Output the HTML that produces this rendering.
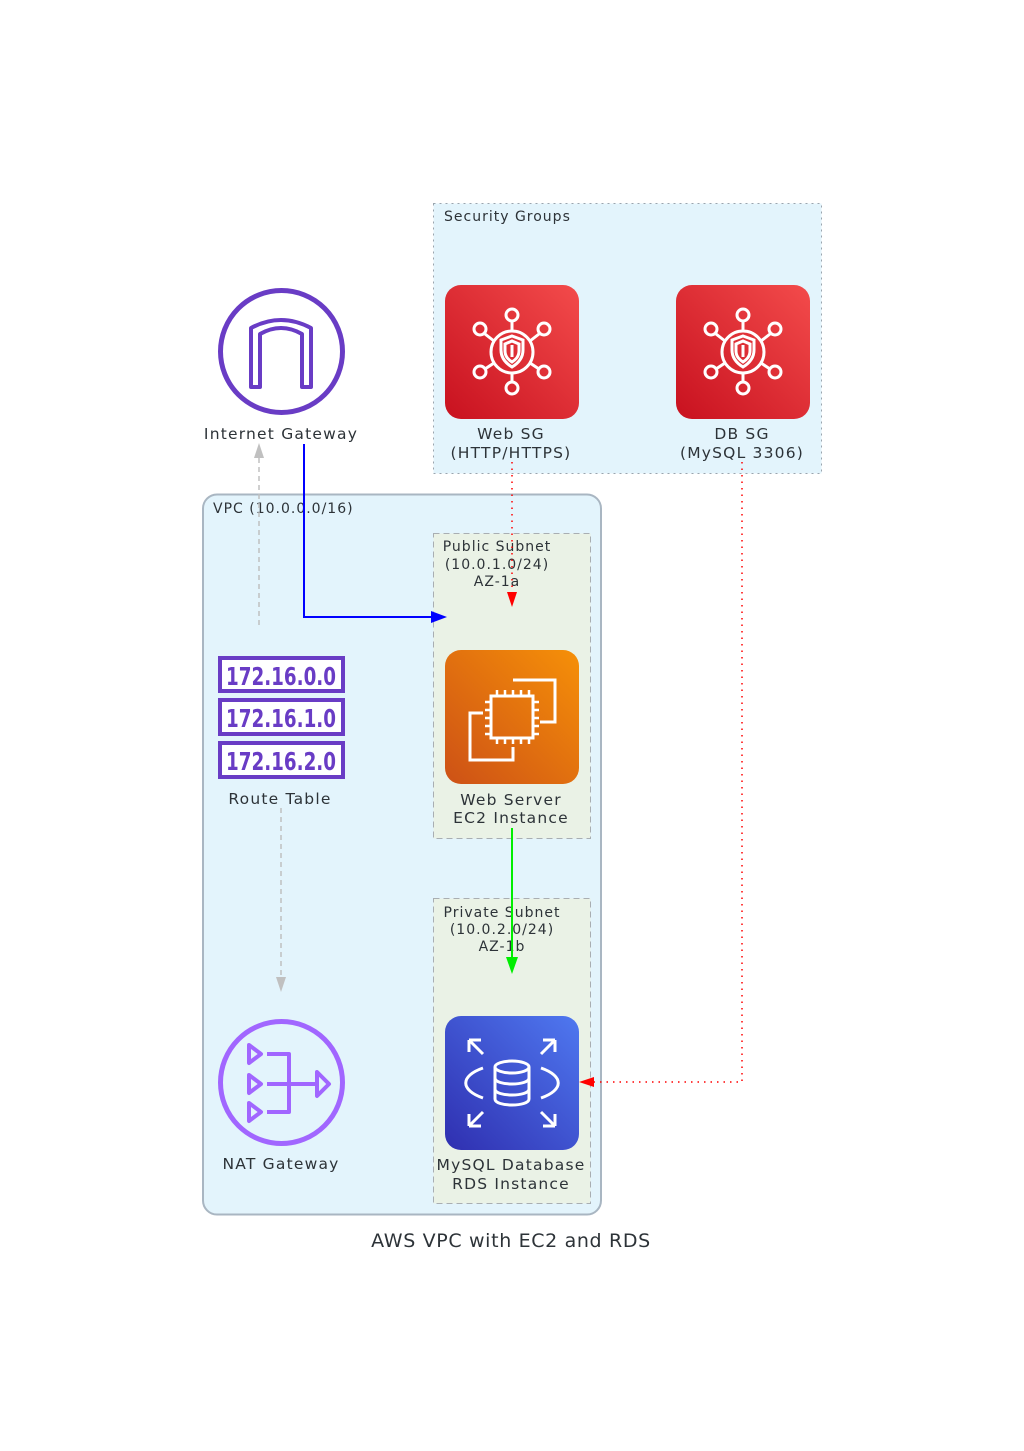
<!DOCTYPE html>
<html><head><meta charset="utf-8"><style>
html,body{margin:0;padding:0;background:#fff;}
svg{display:block;font-family:"DejaVu Sans","Liberation Sans",sans-serif;}
.l{letter-spacing:1.2px;}
.c{letter-spacing:1px;}
</style></head><body>
<svg width="1024" height="1451" viewBox="0 0 1024 1451" xmlns="http://www.w3.org/2000/svg">
<defs>
<linearGradient id="gr" x1="0" y1="1" x2="1" y2="0"><stop offset="0" stop-color="#c8111f"/><stop offset="1" stop-color="#f34b4b"/></linearGradient>
<linearGradient id="go" x1="0" y1="1" x2="1" y2="0"><stop offset="0" stop-color="#cd5116"/><stop offset="1" stop-color="#f69008"/></linearGradient>
<linearGradient id="gb" x1="0" y1="1" x2="1" y2="0"><stop offset="0" stop-color="#2f2fb0"/><stop offset="1" stop-color="#4f78f0"/></linearGradient>
<g id="sg" fill="none" stroke="#fff" stroke-width="3">
<circle cx="67" cy="67" r="21"/>
<path d="M67 51 l11 4 v10 c0 9-6 14-11 17 c-5-3-11-8-11-17 v-10z"/>
<path d="M67 56 l7 3 v7 c0 6-4 9-7 11 c-3-2-7-5-7-11 v-7z"/>
<line x1="67" y1="60" x2="67" y2="72" stroke-width="3"/>
<line x1="67" y1="46" x2="67" y2="36"/><circle cx="67" cy="30" r="6"/>
<line x1="67" y1="88" x2="67" y2="97"/><circle cx="67" cy="103" r="6"/>
<line x1="49" y1="56" x2="40" y2="49"/><circle cx="35" cy="44" r="6"/>
<line x1="85" y1="56" x2="94" y2="49"/><circle cx="99" cy="44" r="6"/>
<line x1="49" y1="78" x2="40" y2="84"/><circle cx="35" cy="87" r="6"/>
<line x1="85" y1="78" x2="94" y2="84"/><circle cx="99" cy="87" r="6"/>
</g>
</defs>

<rect x="433.5" y="203.5" width="388" height="270" fill="#e3f4fc" stroke="#9aa5ae" stroke-dasharray="2,4"/>
<text x="444" y="221" font-size="14" fill="#2d3338" class="c">Security Groups</text>

<rect x="203" y="494.5" width="398" height="720" rx="14" fill="#e3f4fc" stroke="#a9b6c2" stroke-width="2"/>
<text x="213" y="513" font-size="14" fill="#2d3338" class="c">VPC (10.0.0.0/16)</text>

<rect x="433.5" y="533.5" width="157" height="305" fill="#eaf2e6" stroke="#a9aeb2" stroke-dasharray="6,4"/>
<text font-size="14" fill="#2d3338" text-anchor="middle" class="c"><tspan x="497" y="551">Public Subnet</tspan><tspan x="497" y="569">(10.0.1.0/24)</tspan><tspan x="497" y="586">AZ-1a</tspan></text>
<rect x="433.5" y="898.5" width="157" height="305" fill="#eaf2e6" stroke="#a9aeb2" stroke-dasharray="6,4"/>
<text font-size="14" fill="#2d3338" text-anchor="middle" class="c"><tspan x="502" y="917">Private Subnet</tspan><tspan x="502" y="934">(10.0.2.0/24)</tspan><tspan x="502" y="951">AZ-1b</tspan></text>

<circle cx="281.5" cy="351.5" r="61" fill="none" stroke="#693cc5" stroke-width="5"/>
<path d="M251 387 V328 Q281 312 311 328 V387 H302 V334 Q281 322 260 334 V387 Z" fill="none" stroke="#693cc5" stroke-width="4" stroke-linejoin="round"/>
<text x="281" y="439" font-size="15.5" fill="#2d3338" text-anchor="middle" class="l">Internet Gateway</text>

<g transform="translate(445,285)"><rect width="134" height="134" rx="16" fill="url(#gr)"/><use href="#sg"/></g>
<text font-size="15.5" fill="#2d3338" text-anchor="middle" class="l"><tspan x="511" y="439">Web SG</tspan><tspan x="511" y="458">(HTTP/HTTPS)</tspan></text>
<g transform="translate(676,285)"><rect width="134" height="134" rx="16" fill="url(#gr)"/><use href="#sg"/></g>
<text font-size="15.5" fill="#2d3338" text-anchor="middle" class="l"><tspan x="742" y="439">DB SG</tspan><tspan x="742" y="458">(MySQL 3306)</tspan></text>

<g fill="#fff" stroke="#693cc5" stroke-width="4">
<rect x="220" y="658" width="123" height="33"/><rect x="220" y="700" width="123" height="34"/><rect x="220" y="743" width="123" height="34"/>
</g>
<g font-size="25" font-weight="bold" fill="#693cc5" text-anchor="middle" font-family="'DejaVu Sans Condensed','Liberation Sans Narrow','DejaVu Sans',sans-serif">
<text x="281" y="685" textLength="110" lengthAdjust="spacingAndGlyphs">172.16.0.0</text>
<text x="281" y="727" textLength="110" lengthAdjust="spacingAndGlyphs">172.16.1.0</text>
<text x="281" y="770" textLength="110" lengthAdjust="spacingAndGlyphs">172.16.2.0</text>
</g>
<text x="280" y="804" font-size="15.5" fill="#2d3338" text-anchor="middle" class="l">Route Table</text>

<g transform="translate(445,650)">
<rect width="134" height="134" rx="16" fill="url(#go)"/>
<g fill="none" stroke="#fff" stroke-width="3">
<path d="M68 30 H110 V72 H95"/>
<path d="M38 63 H25 V110 H68 V97"/>
<rect x="46" y="46" width="42" height="42"/>
<path d="M52 46v-6M60 46v-6M68 46v-6M76 46v-6M84 46v-6 M52 88v6M60 88v6M68 88v6M76 88v6M84 88v6 M46 52h-6M46 60h-6M46 68h-6M46 76h-6M46 84h-6 M88 52h6M88 60h6M88 68h6M88 76h6M88 84h6" stroke-width="2.5"/>
</g></g>
<text font-size="15.5" fill="#2d3338" text-anchor="middle" class="l"><tspan x="511" y="805">Web Server</tspan><tspan x="511" y="823">EC2 Instance</tspan></text>

<circle cx="281.5" cy="1082.5" r="61" fill="none" stroke="#a166ff" stroke-width="5"/>
<g fill="none" stroke="#a166ff" stroke-width="4" stroke-linejoin="round">
<path d="M249 1045 L261 1054 L249 1063Z"/><path d="M249 1075 L261 1084 L249 1093Z"/><path d="M249 1103 L261 1112 L249 1121Z"/>
<path d="M267 1054 H289 V1112 H267 M267 1084 H316"/>
<path d="M317 1072 L329 1084 L317 1096Z"/>
</g>
<text x="281" y="1169" font-size="15.5" fill="#2d3338" text-anchor="middle" class="l">NAT Gateway</text>

<g transform="translate(445,1016)">
<rect width="134" height="134" rx="16" fill="url(#gb)"/>
<g fill="none" stroke="#fff" stroke-width="3">
<ellipse cx="67" cy="51" rx="17" ry="6"/>
<path d="M50 51 V83 C50 91 84 91 84 83 V51 M50 62 C50 70 84 70 84 62 M50 73 C50 81 84 81 84 73"/>
<path d="M38 52 C15 60 15 74 38 82 M96 52 C119 60 119 74 96 82"/>
<path d="M24 24 L38 38 M24 24 h12 M24 24 v12 M110 24 L96 38 M110 24 h-12 M110 24 v12 M24 110 L38 96 M24 110 h12 M24 110 v-12 M110 110 L96 96 M110 110 h-12 M110 110 v-12"/>
</g></g>
<text font-size="15.5" fill="#2d3338" text-anchor="middle" class="l"><tspan x="511" y="1170">MySQL Database</tspan><tspan x="511" y="1189">RDS Instance</tspan></text>

<path d="M259 625 V458" stroke="#c0c0c0" stroke-width="1.5" stroke-dasharray="5,4" fill="none"/>
<polygon points="259,443 254,458 264,458" fill="#c0c0c0"/>
<path d="M304 444 V617 H432" stroke="#0000ff" stroke-width="2" fill="none"/>
<polygon points="447,617 431,611 431,623" fill="#0000ff"/>
<path d="M512 462 V592" stroke="#ff0000" stroke-width="1.5" stroke-dasharray="1.5,5" fill="none"/>
<polygon points="512,607 507,592 517,592" fill="#ff0000"/>
<path d="M512 828 V958" stroke="#00ee00" stroke-width="2" fill="none"/>
<polygon points="512,974 506,957 518,957" fill="#00ee00"/>
<path d="M742 462 V1082 H594" stroke="#ff0000" stroke-width="1.5" stroke-dasharray="1.5,5" fill="none"/>
<polygon points="579,1082 594,1077 594,1087" fill="#ff0000"/>
<path d="M281 808 V977" stroke="#c0c0c0" stroke-width="1.5" stroke-dasharray="5,4" fill="none"/>
<polygon points="281,992 276,977 286,977" fill="#c0c0c0"/>

<text x="511" y="1247" font-size="19" fill="#2d3338" text-anchor="middle" style="letter-spacing:0.65px">AWS VPC with EC2 and RDS</text>
</svg>
</body></html>
